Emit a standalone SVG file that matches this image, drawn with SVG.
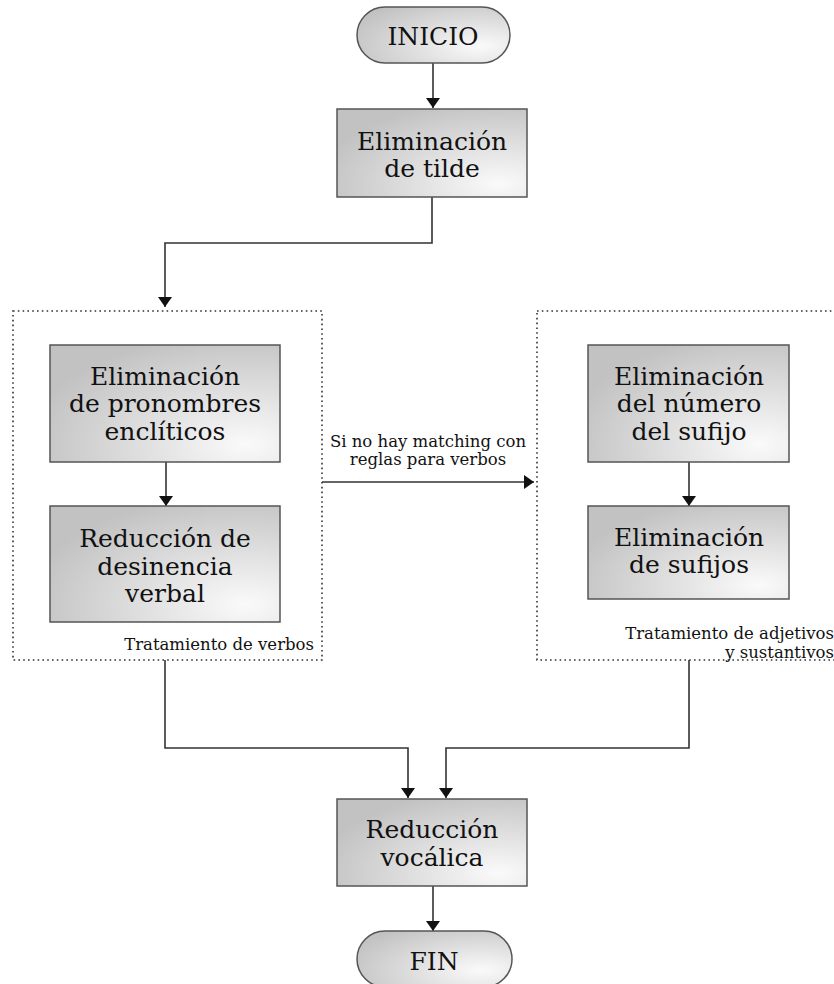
<svg xmlns="http://www.w3.org/2000/svg" width="834" height="984" viewBox="0 0 834 984">
<style>
.box{fill:url(#g);stroke:#555;stroke-width:1.5}
.pill{fill:url(#gp);stroke:#555;stroke-width:1.5}
.t{font-family:"DejaVu Serif",serif;font-size:25px;fill:#111;text-anchor:middle}
.s{font-family:"DejaVu Serif",serif;font-size:16.5px;fill:#111}
.cont{fill:none;stroke:#333;stroke-width:1.6;stroke-dasharray:1.6 3.2}
.c{fill:none;stroke:#333;stroke-width:1.6}
</style>
<defs>
<radialGradient id="g" cx="0.85" cy="0.85" r="0.95" fx="0.85" fy="0.85">
<stop offset="0" stop-color="#fafafa"/>
<stop offset="1" stop-color="#c2c2c2"/>
</radialGradient>
<radialGradient id="gp" cx="0.8" cy="0.7" r="0.9">
<stop offset="0" stop-color="#fafafa"/>
<stop offset="1" stop-color="#c2c2c2"/>
</radialGradient>
<marker id="ah" viewBox="0 0 10 14" refX="10" refY="7" markerWidth="10" markerHeight="14" markerUnits="userSpaceOnUse" orient="auto">
<path d="M0,0 L10,7 L0,14 Z" fill="#111"/>
</marker>
</defs>
<g id="cont-verbos">
<rect class="cont" x="13" y="311" width="309" height="349"/>
<text class="s" x="314" y="650" text-anchor="end">Tratamiento de verbos</text>
</g>
<g id="cont-adj">
<rect class="cont" x="537" y="311" width="320" height="349"/>
<text class="s" x="834" y="639" text-anchor="end">Tratamiento de adjetivos</text>
<text class="s" x="834" y="658" text-anchor="end">y sustantivos</text>
</g>
<g id="connectors">
<path class="c" d="M433,63 V108" marker-end="url(#ah)"/>
<path class="c" d="M432,197 V243 H165 V307" marker-end="url(#ah)"/>
<path class="c" d="M166,462 V506" marker-end="url(#ah)"/>
<path class="c" d="M689,462 V506" marker-end="url(#ah)"/>
<path class="c" d="M322,482 H534" marker-end="url(#ah)"/>
<path class="c" d="M165,660 V748 H408 V798" marker-end="url(#ah)"/>
<path class="c" d="M689,660 V748 H446 V798" marker-end="url(#ah)"/>
<path class="c" d="M433,886 V931" marker-end="url(#ah)"/>
<text class="s" x="428" y="447" text-anchor="middle">Si no hay matching con</text>
<text class="s" x="428" y="465" text-anchor="middle">reglas para verbos</text>
</g>
<g id="inicio">
<rect class="pill" x="357" y="7" width="153" height="56" rx="28"/>
<text class="t" x="433" y="45">INICIO</text>
</g>
<g id="tilde">
<rect class="box" x="337" y="109" width="190" height="88"/>
<text class="t" x="432" y="150">Eliminación</text>
<text class="t" x="432" y="177">de tilde</text>
</g>
<g id="pronombres">
<rect class="box" x="50" y="345" width="230" height="117"/>
<text class="t" x="165" y="385">Eliminación</text>
<text class="t" x="165" y="412">de pronombres</text>
<text class="t" x="165" y="440">enclíticos</text>
</g>
<g id="desinencia">
<rect class="box" x="50" y="506" width="230" height="116"/>
<text class="t" x="165" y="547">Reducción de</text>
<text class="t" x="165" y="575">desinencia</text>
<text class="t" x="165" y="602">verbal</text>
</g>
<g id="numero">
<rect class="box" x="588" y="345" width="201" height="117"/>
<text class="t" x="689" y="385">Eliminación</text>
<text class="t" x="689" y="412">del número</text>
<text class="t" x="689" y="440">del sufijo</text>
</g>
<g id="sufijos">
<rect class="box" x="588" y="506" width="201" height="93"/>
<text class="t" x="689" y="546">Eliminación</text>
<text class="t" x="689" y="573">de sufijos</text>
</g>
<g id="vocalica">
<rect class="box" x="337" y="799" width="190" height="87"/>
<text class="t" x="432" y="838">Reducción</text>
<text class="t" x="432" y="866">vocálica</text>
</g>
<g id="fin">
<rect class="pill" x="357" y="931" width="155" height="56" rx="28"/>
<text class="t" x="434" y="970">FIN</text>
</g>
</svg>
